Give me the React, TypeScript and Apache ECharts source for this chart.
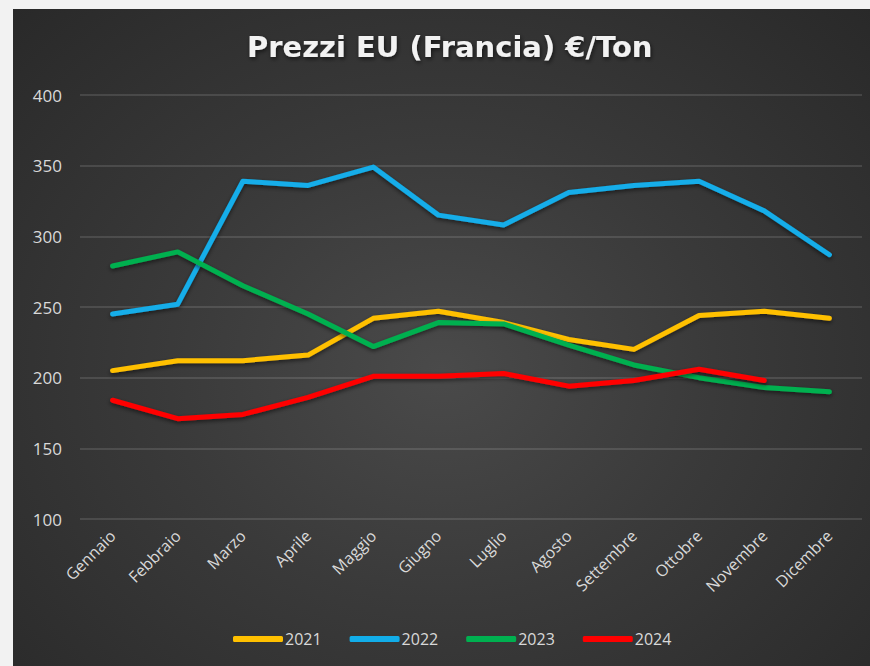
import React, { useEffect, useRef } from "react";
import * as echarts from "echarts";

const months = ["Gennaio", "Febbraio", "Marzo", "Aprile", "Maggio", "Giugno", "Luglio", "Agosto", "Settembre", "Ottobre", "Novembre", "Dicembre"];
const y2021 = [205, 212, 212, 216, 242, 247, 239, 227, 220, 244, 247, 242];
const y2022 = [245, 252, 339, 336, 349, 315, 308, 331, 336, 339, 318, 287];
const y2023 = [279, 289, 265, 245, 222, 239, 238, 223, 209, 200, 193, 190];
const y2024 = [184, 171, 174, 186, 201, 201, 203, 194, 198, 206, 198, null];
const seriesNames = ["2021", "2022", "2023", "2024"];
const seriesColors = ["#FFC000", "#12ADE9", "#00B050", "#FF0000"];

export default function App() {
  const ref = useRef<HTMLDivElement>(null);
  useEffect(() => {
    if (!ref.current) return;
    const chart = echarts.init(ref.current, undefined, { renderer: "svg" });
    const data = [y2021, y2022, y2023, y2024];
    chart.setOption({
      animation: false,
      backgroundColor: "transparent",
      title: {
        text: "Prezzi EU (Francia) €/Ton",
        left: 234,
        top: 23,
        padding: 0,
        textStyle: {
          color: "#F2F2F2",
          fontFamily: "DejaVu Sans",
          fontWeight: "bold",
          fontSize: 29,
          textShadowColor: "rgba(0,0,0,0.6)",
          textShadowBlur: 4,
          textShadowOffsetX: 1,
          textShadowOffsetY: 2,
        },
      },
      legend: {
        bottom: 14,
        left: 215,
        icon: "roundRect",
        itemWidth: 50,
        itemHeight: 6,
        itemGap: 28,
        textStyle: { color: "#D9D9D9", fontFamily: "Open Sans", fontSize: 16, padding: [0, 0, 0, -3] },
        data: seriesNames,
      },
      grid: { left: 67, right: 8, top: 86, bottom: 147, containLabel: false },
      xAxis: {
        type: "category",
        data: months,
        boundaryGap: true,
        axisLine: { show: false },
        axisTick: { show: false },
        axisLabel: {
          rotate: 45,
          color: "#D9D9D9",
          fontFamily: "Open Sans",
          fontSize: 16,
          margin: 14,
          interval: 0,
        },
      },
      yAxis: {
        type: "value",
        min: 100,
        max: 400,
        interval: 50,
        axisLine: { show: false },
        axisTick: { show: false },
        axisLabel: { color: "#D9D9D9", fontFamily: "Open Sans", fontSize: 17, margin: 18 },
        splitLine: { lineStyle: { color: "rgba(255,255,255,0.16)", width: 1.5 } },
      },
      series: seriesNames.map((name, i) => ({
        name,
        type: "line",
        data: data[i],
        symbol: "none",
        color: seriesColors[i],
        lineStyle: {
          width: 5,
          color: seriesColors[i],
          cap: "round",
          join: "round",
          shadowColor: "rgba(0,0,0,0.55)",
          shadowBlur: 4,
          shadowOffsetY: 2,
        },
      })),
    });
    return () => chart.dispose();
  }, []);
  return (
    <div style={{ position: "fixed", left: 0, top: 0, width: 870, height: 666, background: "#F2F2F2" }}>
      <div
        style={{
          position: "absolute",
          left: 13,
          top: 9,
          width: 857,
          height: 657,
          background: "radial-gradient(ellipse at 50% 55%, #4a4a4a 0%, #3a3a3a 45%, #292929 100%)",
        }}
      >
        <div ref={ref} style={{ width: 857, height: 657 }} />
      </div>
    </div>
  );
}
